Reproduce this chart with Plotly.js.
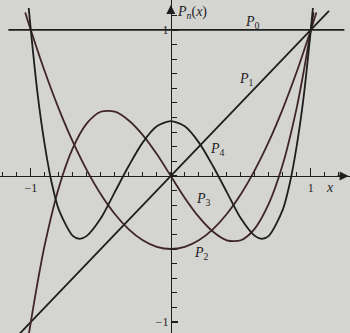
<!DOCTYPE html>
<html>
<head>
<meta charset="utf-8">
<script src="https://cdn.plot.ly/plotly-3.0.1.min.js"></script>
<style>
  html, body { margin: 0; padding: 0; background: #d4d4d0; }
  #chart { width: 350px; height: 333px; }
</style>
</head>
<body>
<div id="chart"></div>
<script>
// Legendre polynomials P0..P4
const xP0 = [-1.16, 1.24];
const yP0 = [1, 1];

const xP1 = [-1.12, 1.13];
const yP1 = [-1.12, 1.13];

const xP2 = [-1.04, -1, -0.9, -0.8, -0.7, -0.6, -0.5, -0.4, -0.3, -0.2, -0.1, 0,
             0.1, 0.2, 0.3, 0.4, 0.5, 0.6, 0.7, 0.8, 0.9, 1, 1.04];
const yP2 = [1.12, 1, 0.715, 0.46, 0.235, 0.04, -0.125, -0.26, -0.365, -0.44, -0.485, -0.5,
             -0.485, -0.44, -0.365, -0.26, -0.125, 0.04, 0.235, 0.46, 0.715, 1, 1.12];

const xP3 = [-1.02, -1, -0.95, -0.9, -0.8, -0.7, -0.6, -0.5, -0.4, -0.3, -0.2, -0.1, 0,
             0.1, 0.2, 0.3, 0.4, 0.5, 0.6, 0.7, 0.8, 0.9, 0.95, 1, 1.02];
const yP3 = [-1.12, -1, -0.72, -0.47, -0.08, 0.19, 0.36, 0.44, 0.44, 0.38, 0.28, 0.15, 0,
             -0.15, -0.28, -0.38, -0.44, -0.44, -0.36, -0.19, 0.08, 0.47, 0.72, 1, 1.12];

const xP4 = [-1.015, -1, -0.95, -0.9, -0.85, -0.8, -0.7, -0.65, -0.6, -0.5, -0.4, -0.3, -0.2, -0.1, 0,
             0.1, 0.2, 0.3, 0.4, 0.5, 0.6, 0.65, 0.7, 0.8, 0.85, 0.9, 0.95, 1, 1.015];
const yP4 = [1.15, 1, 0.55, 0.21, -0.05, -0.23, -0.41, -0.43, -0.41, -0.29, -0.11, 0.07, 0.23, 0.34, 0.375,
             0.34, 0.23, 0.07, -0.11, -0.29, -0.41, -0.43, -0.41, -0.23, -0.05, 0.21, 0.55, 1, 1.15];

const ink = '#1e1e1e';
const redInk = '#3f2626';

function curve(x, y, color) {
    return {
        x: x, y: y,
        type: 'scatter',
        mode: 'lines',
        line: { color: color, width: 1.8, shape: 'spline', smoothing: 0.8 },
        hoverinfo: 'skip'
    };
}

const data = [
    curve(xP0, yP0, ink),
    curve(xP1, yP1, ink),
    curve(xP2, yP2, redInk),
    curve(xP3, yP3, redInk),
    curve(xP4, yP4, ink)
];

const serif = { family: 'Liberation Serif, DejaVu Serif, serif', size: 14, color: '#1e1e1e' };

function label(text, x, y, anchor) {
    return { text: text, x: x, y: y, xref: 'x', yref: 'y', showarrow: false,
             font: serif, xanchor: anchor || 'center', yanchor: 'middle' };
}

const xr = [-1.22, 1.28];
const yr = [-1.075, 1.205];

const layout = {
    width: 350,
    height: 333,
    margin: { l: 0, r: 0, t: 0, b: 0 },
    paper_bgcolor: '#d4d4d0',
    plot_bgcolor: '#d4d4d0',
    showlegend: false,
    xaxis: {
        range: xr,
        anchor: 'free',
        position: (0 - yr[0]) / (yr[1] - yr[0]),
        showgrid: false,
        zeroline: false,
        showline: true,
        linecolor: ink,
        linewidth: 1.5,
        ticks: 'inside',
        ticklen: 8,
        tickwidth: 1.2,
        tickcolor: ink,
        tickvals: [-1, 1],
        ticktext: ['\u22121', '1'],
        tickfont: { family: 'Liberation Serif, serif', size: 12, color: ink },
        minor: { dtick: 0.1, ticks: 'inside', ticklen: 4, tickcolor: ink, tickwidth: 1 },
        fixedrange: true
    },
    yaxis: {
        range: yr,
        anchor: 'free',
        position: (0 - xr[0]) / (xr[1] - xr[0]),
        showgrid: false,
        zeroline: false,
        showline: true,
        linecolor: ink,
        linewidth: 1.5,
        ticks: 'inside',
        ticklen: 6,
        tickwidth: 1.2,
        tickcolor: ink,
        tickvals: [-1, 1],
        ticktext: ['\u22121', '1'],
        tickfont: { family: 'Liberation Serif, serif', size: 12, color: ink },
        minor: { dtick: 0.1, ticks: 'inside', ticklen: 5, tickcolor: ink, tickwidth: 1 },
        fixedrange: true
    },
    annotations: [
        label('<i>P</i><sub>0</sub>', 0.58, 1.05),
        label('<i>P</i><sub>1</sub>', 0.54, 0.66),
        label('<i>P</i><sub>2</sub>', 0.22, -0.53),
        label('<i>P</i><sub>3</sub>', 0.23, -0.16),
        label('<i>P</i><sub>4</sub>', 0.33, 0.18),
        label('<i>P<sub>n</sub></i>(<i>x</i>)', 0.03, 1.12, 'left'),
        label('<i>x</i>', 1.14, -0.08),
        { x: 1.27, y: 0, ax: 1.18, ay: 0, xref: 'x', yref: 'y', axref: 'x', ayref: 'y',
          showarrow: true, arrowhead: 2, arrowsize: 1.2, arrowwidth: 1.5, arrowcolor: ink, text: '' },
        { x: 0, y: 1.17, ax: 0, ay: 1.1, xref: 'x', yref: 'y', axref: 'x', ayref: 'y',
          showarrow: true, arrowhead: 2, arrowsize: 1.2, arrowwidth: 1.5, arrowcolor: ink, text: '' }
    ]
};

Plotly.newPlot('chart', data, layout, { displayModeBar: false, staticPlot: true });
</script>
</body>
</html>
